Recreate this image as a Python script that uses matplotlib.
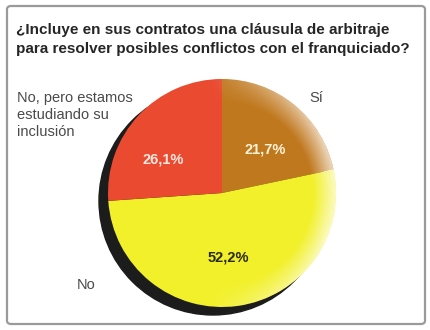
import matplotlib
matplotlib.use("Agg")
import matplotlib.pyplot as plt
import numpy as np
from matplotlib.patches import Circle, FancyBboxPatch

title = "¿Incluye en sus contratos una cláusula de arbitraje\npara resolver posibles conflictos con el franquiciado?"
categories = ["Sí", "No", "No, pero estamos\nestudiando su\ninclusión"]
values = [21.7, 52.2, 26.1]
pct_labels = ["21,7%", "52,2%", "26,1%"]
colors = ["#C0781E", "#F2F02A", "#EA4A30"]
pct_colors = ["#FFF3D8", "#2a2a10", "#FFE8E0"]

W, H = 431, 330
fig = plt.figure(figsize=(W / 100, H / 100), dpi=100)
fig.patch.set_facecolor("white")
fam = ["Liberation Sans Narrow", "Liberation Sans", "DejaVu Sans"]

# frame
frame = FancyBboxPatch((7 / W, 6 / H), 418 / W, 318 / H,
                       boxstyle="round,pad=0,rounding_size=0.01",
                       transform=fig.transFigure, fill=False,
                       edgecolor="#9a9a9a", lw=1.6)
fig.add_artist(frame)

fig.text(16 / W, 1 - 23 / H, title, ha="left", va="top", fontsize=11.0,
         fontweight="bold", color="#262626", family=fam, linespacing=1.45)

cx, cy = 222, 193
ax = fig.add_axes([(cx - 130) / W, 1 - (cy + 130) / H, 260 / W, 260 / H])
ax.axis("off")

R = 1.14
ax.add_patch(Circle((-0.09, -0.08), R, color="#1c1c1c", zorder=0))
wedges, _ = ax.pie(values, colors=colors, startangle=90, counterclock=False,
                   radius=R, wedgeprops=dict(linewidth=0))
for w in wedges:
    w.set_zorder(1)

# glossy fade on the right rim
gx, gy = np.meshgrid(np.linspace(-R, R, 300), np.linspace(-R, R, 300))
rr = np.hypot(gx, gy)
alpha = np.clip((rr / R - 0.80) / 0.20, 0, 1) * np.clip(gx / R + 0.1, 0, 1) * 0.7
img = np.ones((300, 300, 4))
img[..., 3] = alpha
im = ax.imshow(img, extent=(-R, R, -R, R), origin="lower", zorder=2,
               interpolation="bilinear")
im.set_clip_path(Circle((0, 0), R, transform=ax.transData))
ax.set_xlim(-1.3, 1.3)
ax.set_ylim(-1.3, 1.3)
ax.set_aspect("equal")

pct_pos = [(0.43, 0.43), (0.06, -0.64), (-0.59, 0.33)]
for (x, y), t, c in zip(pct_pos, pct_labels, pct_colors):
    ax.text(x, y, t, ha="center", va="center", fontsize=10.5, fontweight="bold",
            color=c, family=fam, zorder=3)

fig.text(17 / W, 1 - 91 / H, categories[2], ha="left", va="top", fontsize=10.5,
         color="#4a4a4a", family=fam, linespacing=1.27)
fig.text(316 / W, 1 - 98 / H, categories[0], ha="center", va="center", fontsize=10.5,
         color="#4a4a4a", family=fam)
fig.text(86 / W, 1 - 285 / H, categories[1], ha="center", va="center", fontsize=10.5,
         color="#4a4a4a", family=fam)

fig.savefig("out.png", dpi=100, facecolor="white")
